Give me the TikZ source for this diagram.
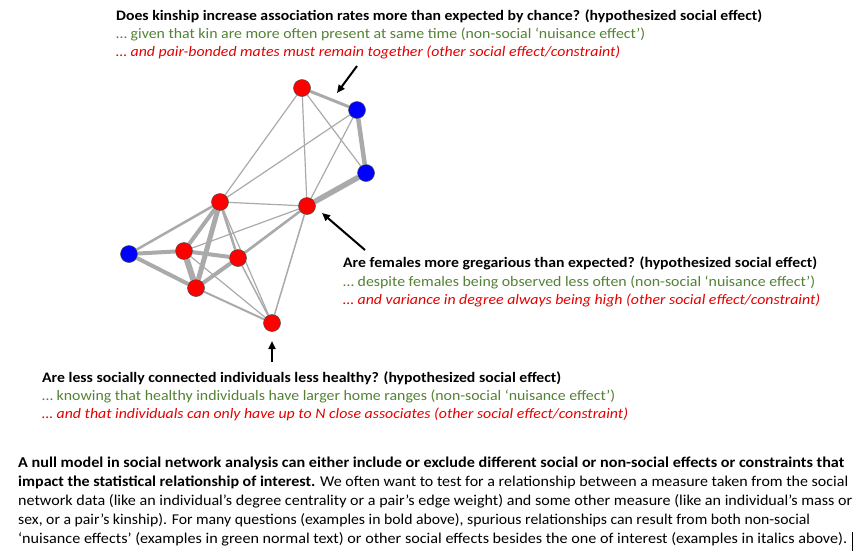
\documentclass[tikz,border=0pt]{standalone}
\usepackage{fontspec}
\setmainfont{Carlito}
\usepackage{graphicx}
\usetikzlibrary{arrows.meta,backgrounds}
\definecolor{nodered}{RGB}{255,0,0}
\definecolor{nodeblue}{RGB}{0,0,255}
\definecolor{edgegray}{RGB}{170,170,170}
\definecolor{txtgreen}{RGB}{84,130,53}
\definecolor{txtred}{RGB}{230,0,0}
\newcommand{\fitw}[2]{\resizebox{#1pt}{\height}{#2}}
\begin{document}
\begin{tikzpicture}[x=1pt,y=-1pt,
  indiv/.style={circle,draw=black!70,line width=0.5pt,minimum size=17pt,inner sep=0pt},
  fem/.style={indiv,fill=nodered},
  mal/.style={indiv,fill=nodeblue},
  tie/.style={draw=edgegray,line width=#1},
  txt/.style={anchor=base west,inner sep=0pt,font=\fontsize{14.5}{17}\selectfont},
  ptxt/.style={anchor=base west,inner sep=0pt,font=\fontsize{15}{18}\selectfont},
  pointer/.style={-{Triangle[length=8pt,width=7pt]},line width=2pt,black}]
\useasboundingbox (0,0) rectangle (862,558);

% individuals
\node[fem] (n1) at (302,88) {};
\node[mal] (n2) at (357,110) {};
\node[mal] (n3) at (366,173) {};
\node[fem] (n4) at (307,206) {};
\node[fem] (n5) at (220,202) {};
\node[mal] (n6) at (129,254) {};
\node[fem] (n7) at (184,251) {};
\node[fem] (n8) at (238,258) {};
\node[fem] (n9) at (196,288) {};
\node[fem] (n10) at (272,323) {};

\begin{scope}[on background layer]
\fill[white] (0,0) rectangle (862,558);
\draw[tie=3pt] (n1) -- (n2);
\draw[tie=4.5pt] (n2) -- (n3);
\draw[tie=5.5pt] (n3) -- (n4);
\draw[tie=1.2pt] (n1) -- (n3);
\draw[tie=1.2pt] (n1) -- (n4);
\draw[tie=1.2pt] (n1) -- (n5);
\draw[tie=1.2pt] (n2) -- (n4);
\draw[tie=1.2pt] (n2) -- (n5);
\draw[tie=1.2pt] (n4) -- (n5);
\draw[tie=1.2pt] (n4) -- (n7);
\draw[tie=2.5pt] (n4) -- (n8);
\draw[tie=1.5pt] (n4) -- (n9);
\draw[tie=1.5pt] (n4) -- (n10);
\draw[tie=2.5pt] (n5) -- (n6);
\draw[tie=4pt] (n5) -- (n7);
\draw[tie=5pt] (n5) -- (n9);
\draw[tie=2.5pt] (n5) -- (n8);
\draw[tie=1.2pt] (n5) -- (n10);
\draw[tie=4pt] (n6) -- (n7);
\draw[tie=4pt] (n6) -- (n9);
\draw[tie=4pt] (n7) -- (n8);
\draw[tie=6pt] (n7) -- (n9);
\draw[tie=4pt] (n8) -- (n9);
\draw[tie=1.2pt] (n7) -- (n10);
\draw[tie=1.5pt] (n8) -- (n10);
\draw[tie=2pt] (n9) -- (n10);
\end{scope}

% pointers
\coordinate (a1t) at (357,66);
\coordinate (a1h) at (337,93);
\coordinate (a2t) at (365,250);
\coordinate (a2h) at (322,213);
\coordinate (a3t) at (272,362);
\coordinate (a3h) at (272,341);
\draw[pointer] (a1t) -- (a1h);
\draw[pointer] (a2t) -- (a2h);
\draw[pointer] (a3t) -- (a3h);

% top block
\node[txt] (t1) at (116,20) {\fitw{646}{\bfseries Does kinship increase association rates more than expected by chance? (hypothesized social effect)}};
\node[txt,text=txtgreen] (t2) at (116,38) {\fitw{529}{… given that kin are more often present at same time (non-social ‘nuisance effect’)}};
\node[txt,text=txtred] (t3) at (116,56) {\fitw{504}{\itshape … and pair-bonded mates must remain together (other social effect/constraint)}};

% middle block
\node[txt] (m1) at (343,267) {\fitw{474}{\bfseries Are females more gregarious than expected? (hypothesized social effect)}};
\node[txt,text=txtgreen] (m2) at (343,286) {\fitw{472}{… despite females being observed less often (non-social ‘nuisance effect’)}};
\node[txt,text=txtred] (m3) at (343,304) {\fitw{477}{\itshape … and variance in degree always being high (other social effect/constraint)}};

% lower block
\node[txt] (l1) at (42,382) {\fitw{519}{\bfseries Are less socially connected individuals less healthy? (hypothesized social effect)}};
\node[txt,text=txtgreen] (l2) at (42,400) {\fitw{573}{… knowing that healthy individuals have larger home ranges (non-social ‘nuisance effect’)}};
\node[txt,text=txtred] (l3) at (42,418) {\fitw{586}{\itshape … and that individuals can only have up to N close associates (other social effect/constraint)}};

% paragraph
\node[ptxt] (p1) at (18,467.5) {\fitw{826}{\bfseries A null model in social network analysis can either include or exclude different social or non-social effects or constraints that}};
\node[ptxt] (p2) at (18,486.5) {\fitw{830}{\textbf{impact the statistical relationship of interest.} We often want to test for a relationship between a measure taken from the social}};
\node[ptxt] (p3) at (18,505.5) {\fitw{834}{network data (like an individual’s degree centrality or a pair’s edge weight) and some other measure (like an individual’s mass or}};
\node[ptxt] (p4) at (18,524.5) {\fitw{792}{sex, or a pair’s kinship). For many questions (examples in bold above), spurious relationships can result from both non-social}};
\node[ptxt] (p5) at (18,543.5) {\fitw{829}{‘nuisance effects’ (examples in green normal text) or other social effects besides the one of interest (examples in italics above).}};
\draw[line width=0.8pt] (852,532) -- (852,551);
\end{tikzpicture}
\end{document}
